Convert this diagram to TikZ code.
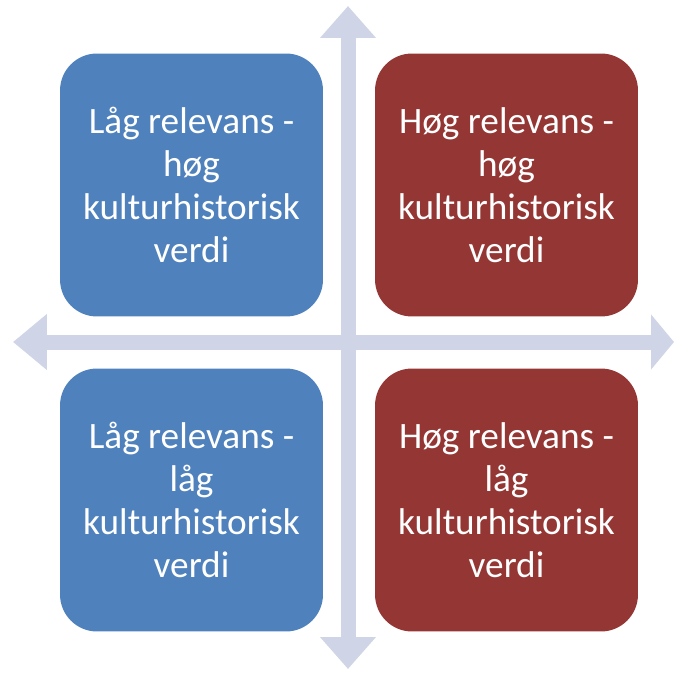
\documentclass[tikz,border=0pt]{standalone}
\usepackage{fontspec}
\setmainfont{Carlito}
\usepackage{tikz}
\usetikzlibrary{arrows.meta}
\usetikzlibrary{positioning}
\definecolor{axisgrey}{HTML}{CFD5E6}
\definecolor{lowblue}{HTML}{4F81BD}
\definecolor{highred}{HTML}{943634}
\tikzset{quadbox/.style={rounded corners=0.74cm,minimum width=5.26cm,minimum height=5.26cm,
    text=white,align=center,inner sep=0pt,font=\fontsize{21.2}{24.5}\selectfont}}
\newcommand{\quadrant}[4]{\node[quadbox,fill=#1] (#2) at #3 {#4}}

\begin{document}
\begin{tikzpicture}[x=0.02cm,y=-0.02cm]
    \useasboundingbox (0,0) rectangle (675,675);
    \draw [axisgrey, line width=0.3cm, -{Triangle[length=0.64cm,width=1.08cm]}] (348,342) -- (348,6);
    \draw [axisgrey, line width=0.3cm, -{Triangle[length=0.64cm,width=1.08cm]}] (348,342) -- (348,669);
    \draw [axisgrey, line width=0.3cm, -{Triangle[length=0.68cm,width=1.08cm]}] (348,342) -- (13,342);
    \draw [axisgrey, line width=0.3cm, -{Triangle[length=0.46cm,width=1.08cm]}] (348,342) -- (674,342);
    \quadrant{lowblue}{lowhigh}{(191.5,185)}{Låg relevans -\\høg\\kulturhistorisk\\verdi};
    \quadrant{highred}{highhigh}{(506.5,185)}{Høg relevans -\\høg\\kulturhistorisk\\verdi};
    \quadrant{lowblue}{lowlow}{(191.5,500)}{Låg relevans -\\låg\\kulturhistorisk\\verdi};
    \quadrant{highred}{highlow}{(506.5,500)}{Høg relevans -\\låg\\kulturhistorisk\\verdi};
\end{tikzpicture}
\end{document}
